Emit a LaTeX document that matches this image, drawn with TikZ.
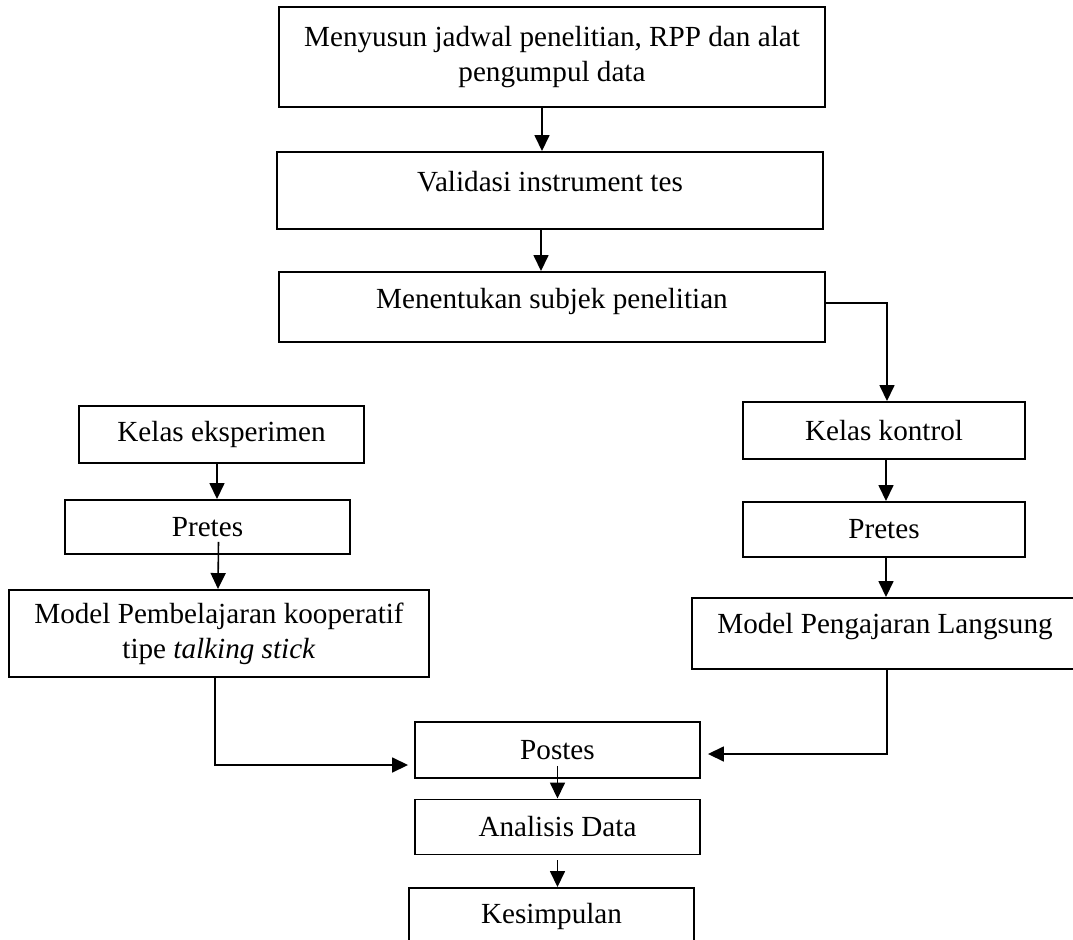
\documentclass[tikz,border=0pt]{standalone}
\usepackage{fontspec}
\setmainfont{Liberation Serif}
\usepackage{tikz}
\usetikzlibrary{calc,arrows.meta}
\tikzset{
  kotak/.style={draw, line width=1.1pt, inner sep=0pt, align=center},
  panah/.style={line width=0.9pt, -{Triangle[length=0.32cm,width=0.3cm]}}
}

\begin{document}
\begin{tikzpicture}[x=0.02cm, y=-0.02cm, font=\fontsize{16.6pt}{20pt}\selectfont]
	\useasboundingbox (0,0) rectangle (1073,940);
	\clip (0,0) rectangle (1073,940);

    \node[kotak, minimum width=10.92cm, minimum height=2cm] (jadwal) at (552,57) {Menyusun jadwal penelitian, RPP dan alat\\pengumpul data};
    \node[kotak, minimum width=10.92cm, minimum height=1.54cm, label={[yshift=0.17cm]center:Validasi instrument tes}] (validasi) at (550,190.5) {};
    \node[kotak, minimum width=10.92cm, minimum height=1.4cm, label={[yshift=0.12cm]center:Menentukan subjek penelitian}] (subjek) at (552,307) {};

    % kelas eksperimen
    \node[kotak, minimum width=5.7cm, minimum height=1.14cm] (eksp) at (221.5,434.5) {Kelas eksperimen};
    \node[kotak, minimum width=5.7cm, minimum height=1.08cm] (pretesL) at (207.5,527) {Pretes};
    \node[kotak, minimum width=8.4cm, minimum height=1.74cm] (modelL) at (219,633.5) {Model Pembelajaran kooperatif\\tipe \textit{talking stick}};

    % kelas kontrol
    \node[kotak, minimum width=5.64cm, minimum height=1.14cm] (kontrol) at (884,430.5) {Kelas kontrol};
    \node[kotak, minimum width=5.64cm, minimum height=1.1cm] (pretesR) at (884,529.5) {Pretes};
    \node[kotak, minimum width=7.72cm, minimum height=1.42cm, label={[yshift=0.13cm]center:Model Pengajaran Langsung}] (modelR) at (885,633.5) {};

    \node[kotak, minimum width=5.7cm, minimum height=1.12cm] (postes) at (557.5,750) {Postes};
    \node[kotak, minimum width=5.7cm, minimum height=1.1cm] (analisis) at (557.5,827) {Analisis Data};
    \node[kotak, minimum width=5.7cm, minimum height=1.12cm] (kesimpulan) at (551.5,916) {Kesimpulan};

    \draw[panah] ($(jadwal.south)+(-10,0)$) -- ($(validasi.north)+(-8,0)$);
    \draw[panah] ($(validasi.south)+(-9,0)$) -- ($(subjek.north)+(-11,0)$);
    \draw[panah] ($(subjek.east)+(0,-4)$) -| ($(kontrol.north)+(3,0)$);

    \draw[panah] ($(eksp.south)+(-4.5,0)$) -- ($(pretesL.north)+(9.5,0)$);
    \draw[panah] ($(pretesL.south)+(11,-13)$) -- ($(modelL.north)+(-1,0)$);
    \draw[panah] ($(modelL.south)+(-4,0)$) |- ($(postes.west)+(-6,15)$);

    \draw[panah] ($(kontrol.south)+(2,0)$) -- ($(pretesR.north)+(2,0)$);
    \draw[panah] ($(pretesR.south)+(2,0)$) -- ($(modelR.north)+(1,0)$);
    \draw[panah] ($(modelR.south)+(2,0)$) |- ($(postes.east)+(7,4)$);

    \draw[panah] ($(postes.south)+(0,-13)$) -- (analisis.north);
    \draw[panah] ($(analisis.south)+(0,5)$) -- ($(kesimpulan.north)+(6,0)$);
\end{tikzpicture}
\end{document}
